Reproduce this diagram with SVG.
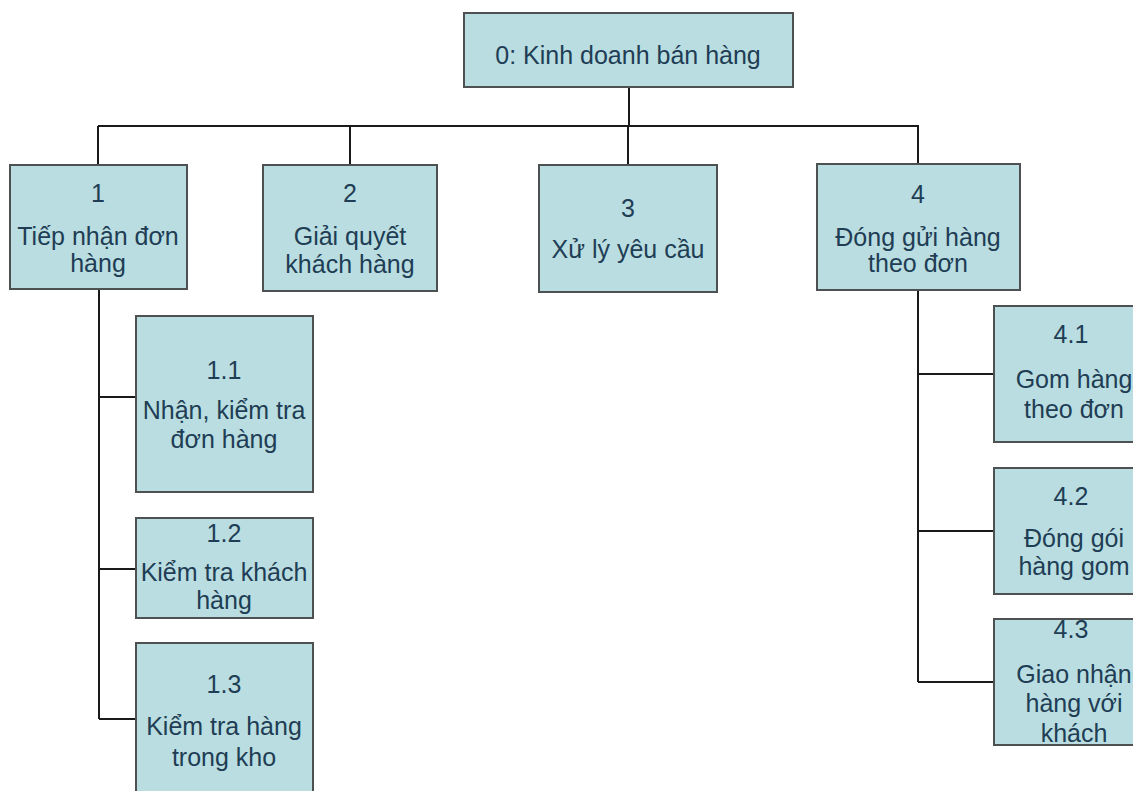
<svg xmlns="http://www.w3.org/2000/svg" width="1133" height="791" viewBox="0 0 1133 791">
  <style>
    .box { fill: #b9dde0; stroke: #4d5152; stroke-width: 2; }
    .lbl { font-family: "Liberation Sans", Arial, sans-serif; font-size: 25px; fill: #1f3d55; text-anchor: middle; }
    .wire { fill: none; stroke: #1a1a1a; stroke-width: 2; }
  </style>
  <rect width="1133" height="791" fill="#ffffff"/>

  <!-- tree connectors -->
  <g id="connectors">
    <path class="wire" d="M629,87 V126"/>
    <path class="wire" d="M98,126 H919"/>
    <path class="wire" d="M98,126 V165"/>
    <path class="wire" d="M350,126 V165"/>
    <path class="wire" d="M628,126 V165"/>
    <path class="wire" d="M918,126 V165"/>
    <!-- branch under node 1 -->
    <path class="wire" d="M99,289 V719"/>
    <path class="wire" d="M99,397 H136"/>
    <path class="wire" d="M99,569 H136"/>
    <path class="wire" d="M99,719 H136"/>
    <!-- branch under node 4 -->
    <path class="wire" d="M918,290 V682"/>
    <path class="wire" d="M918,374 H994"/>
    <path class="wire" d="M918,531 H994"/>
    <path class="wire" d="M918,682 H994"/>
  </g>

  <g id="n0">
    <rect class="box" x="464" y="13" width="329" height="74"/>
    <text class="lbl" x="628" y="64">0: Kinh doanh bán hàng</text>
  </g>

  <g id="n1">
    <rect class="box" x="10" y="165" width="177" height="124"/>
    <text class="lbl" x="98" y="202">1</text>
    <text class="lbl" x="98" y="245">Tiếp nhận đơn</text>
    <text class="lbl" x="98" y="272">hàng</text>
  </g>

  <g id="n2">
    <rect class="box" x="263" y="165" width="174" height="126"/>
    <text class="lbl" x="350" y="202">2</text>
    <text class="lbl" x="350" y="245">Giải quyết</text>
    <text class="lbl" x="350" y="273">khách hàng</text>
  </g>

  <g id="n3">
    <rect class="box" x="539" y="165" width="178" height="127"/>
    <text class="lbl" x="628" y="217">3</text>
    <text class="lbl" x="628" y="258">Xử lý yêu cầu</text>
  </g>

  <g id="n4">
    <rect class="box" x="817" y="164" width="203" height="126"/>
    <text class="lbl" x="918" y="203">4</text>
    <text class="lbl" x="918" y="246">Đóng gửi hàng</text>
    <text class="lbl" x="918" y="272">theo đơn</text>
  </g>

  <g id="n1-1">
    <rect class="box" x="136" y="316" width="177" height="176"/>
    <text class="lbl" x="224" y="379">1.1</text>
    <text class="lbl" x="224" y="419">Nhận, kiểm tra</text>
    <text class="lbl" x="224" y="448">đơn hàng</text>
  </g>

  <g id="n1-2">
    <rect class="box" x="136" y="518" width="177" height="100"/>
    <text class="lbl" x="224" y="542">1.2</text>
    <text class="lbl" x="224" y="581">Kiểm tra khách</text>
    <text class="lbl" x="224" y="609">hàng</text>
  </g>

  <g id="n1-3">
    <rect class="box" x="136" y="643" width="177" height="160"/>
    <text class="lbl" x="224" y="693">1.3</text>
    <text class="lbl" x="224" y="735">Kiểm tra hàng</text>
    <text class="lbl" x="224" y="766">trong kho</text>
  </g>

  <g id="n4-1">
    <rect class="box" x="994" y="306" width="160" height="136"/>
    <text class="lbl" x="1071" y="343">4.1</text>
    <text class="lbl" x="1074" y="388">Gom hàng</text>
    <text class="lbl" x="1074" y="418">theo đơn</text>
  </g>

  <g id="n4-2">
    <rect class="box" x="994" y="468" width="160" height="126"/>
    <text class="lbl" x="1071" y="505">4.2</text>
    <text class="lbl" x="1074" y="547">Đóng gói</text>
    <text class="lbl" x="1074" y="575">hàng gom</text>
  </g>

  <g id="n4-3">
    <rect class="box" x="994" y="619" width="160" height="126"/>
    <text class="lbl" x="1071" y="638">4.3</text>
    <text class="lbl" x="1074" y="683">Giao nhận</text>
    <text class="lbl" x="1074" y="712">hàng với</text>
    <text class="lbl" x="1074" y="742">khách</text>
  </g>
</svg>
